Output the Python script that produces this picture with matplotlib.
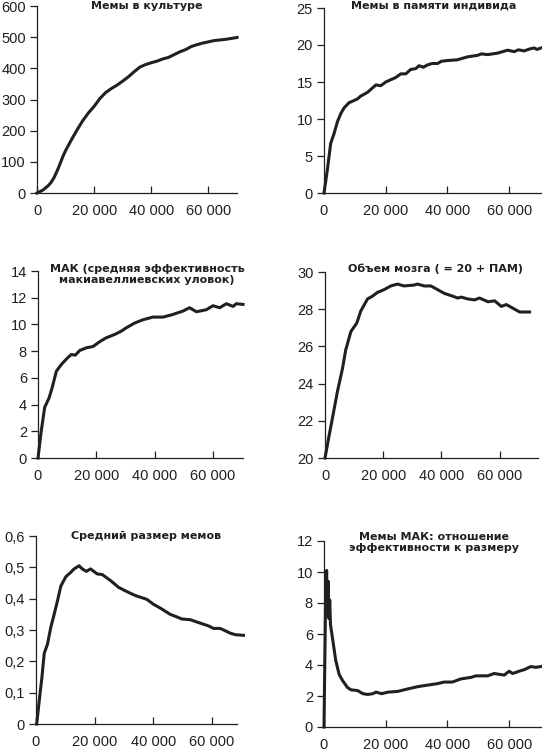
import numpy as np
import matplotlib.pyplot as plt
from matplotlib.ticker import FuncFormatter

plt.rcParams['font.family'] = ['Liberation Sans', 'DejaVu Sans']

# --- data (x = time steps) ---
x_culture = [0, 2000, 4000, 5000, 6000, 7000, 8000, 9000, 10000, 12000, 14000, 16000,
             18000, 20000, 22000, 24000, 26000, 28000, 30000, 32000, 34000, 36000,
             38000, 40000, 42000, 44000, 46000, 48000, 50000, 52000, 54000, 56000,
             58000, 60000, 62000, 64000, 66000, 68000, 70000]
y_culture = [0, 9, 24, 35, 50, 70, 92, 116, 136, 170, 202, 232,
             257, 278, 303, 322, 335, 346, 359, 373, 389, 404,
             412, 418, 423, 430, 435, 444, 453, 460, 470, 476,
             481, 485, 489, 491, 493, 496, 499]

x_memory = [0, 1080, 2160, 3240, 4320, 5400, 6500, 8100, 9200, 10800, 11900, 14100,
            15700, 16800, 18400, 20000, 21600, 23200, 24900, 26500, 28100, 29700,
            30800, 32200, 33500, 35000, 36800, 38000, 40000, 43200, 46500, 49700,
            51000, 53000, 56200, 59500, 61600, 63000, 64900, 66500, 68100, 69000, 70300]
y_memory = [0, 3.1, 6.7, 8.0, 9.6, 10.7, 11.5, 12.2, 12.4, 12.7, 13.1, 13.6,
            14.2, 14.6, 14.5, 15.0, 15.3, 15.6, 16.1, 16.1, 16.7, 16.8,
            17.2, 17.0, 17.3, 17.5, 17.5, 17.8, 17.9, 18.0, 18.4, 18.6,
            18.8, 18.7, 18.9, 19.3, 19.1, 19.35, 19.2, 19.45, 19.6, 19.4, 19.6]

x_mac = [0, 1100, 2300, 3800, 4900, 6300, 8000, 9700, 11400, 12800, 14300, 16600,
         18900, 21100, 23400, 26300, 28600, 30300, 33100, 36000, 39400, 42900,
         46300, 49700, 52000, 54300, 57700, 60000, 62300, 64600, 66900, 68000, 70300]
y_mac = [0, 2.0, 3.8, 4.5, 5.3, 6.5, 7.0, 7.4, 7.75, 7.7, 8.05, 8.25,
         8.35, 8.7, 9.0, 9.25, 9.5, 9.75, 10.1, 10.35, 10.55, 10.55,
         10.75, 11.0, 11.25, 10.95, 11.1, 11.4, 11.25, 11.55, 11.35, 11.55, 11.5]

x_brain = [0, 1400, 2500, 4300, 6000, 7100, 8900, 10900, 12300, 14600, 16300, 18000,
           20300, 22600, 24900, 27200, 30700, 31800, 34100, 36400, 38700, 41000,
           43900, 45600, 46800, 49100, 51400, 53100, 56000, 58300, 60600, 62300,
           64600, 66900, 70300]
y_brain = [20, 21.2, 22.1, 23.6, 24.8, 25.8, 26.8, 27.25, 27.9, 28.55, 28.7, 28.9,
           29.05, 29.25, 29.35, 29.25, 29.3, 29.35, 29.25, 29.25, 29.05, 28.85,
           28.7, 28.6, 28.65, 28.55, 28.5, 28.6, 28.4, 28.45, 28.15, 28.25,
           28.05, 27.85, 27.85]

x_size = [230, 1130, 2030, 2800, 3950, 5080, 6200, 7350, 8470, 10170, 11860, 13000,
          14700, 15800, 17200, 18600, 20900, 22600, 25400, 28200, 30500, 31600,
          33900, 35500, 37800, 40100, 42400, 45800, 48000, 49800, 52600, 56000,
          58900, 60600, 62900, 66300, 68000, 70800]
y_size = [0, 0.076, 0.15, 0.225, 0.256, 0.31, 0.35, 0.394, 0.44, 0.47, 0.484, 0.495,
          0.505, 0.495, 0.487, 0.495, 0.479, 0.477, 0.458, 0.436, 0.425, 0.42,
          0.41, 0.405, 0.398, 0.382, 0.37, 0.35, 0.342, 0.335, 0.333, 0.322,
          0.313, 0.305, 0.305, 0.29, 0.285, 0.283]

x_ratio = [0, 500, 850, 1100, 1350, 1600, 1850, 2100, 2700, 3800, 4900, 6000, 7600,
           8700, 10900, 12600, 14200, 15800, 16900, 18600, 20800, 24000, 27000,
           30300, 33500, 36800, 38900, 41600, 44300, 47600, 49200, 53000, 55100,
           58400, 60000, 61100, 63200, 64900, 67000, 68600, 70300]
y_ratio = [0, 8.0, 10.1, 7.2, 9.4, 7.0, 8.2, 6.6, 5.8, 4.3, 3.4, 3.0, 2.55,
           2.4, 2.35, 2.15, 2.1, 2.15, 2.25, 2.15, 2.25, 2.3, 2.45,
           2.6, 2.7, 2.8, 2.9, 2.9, 3.1, 3.2, 3.3, 3.3, 3.45,
           3.35, 3.6, 3.45, 3.6, 3.7, 3.9, 3.85, 3.9]

W, H = 542, 750
ink = '#231f20'


def make_ax(left, right, top, bottom):
    return fig.add_axes([left / W, 1 - bottom / H, (right - left) / W, (bottom - top) / H])


def style(ax, xmax, ylo, yhi, ystep, yfmt=None):
    ax.set_xlim(0, xmax)
    ax.set_ylim(ylo, yhi)
    ax.set_xticks([0, 20000, 40000, 60000])
    ax.set_yticks(np.arange(ylo, yhi + ystep / 2, ystep))
    ax.xaxis.set_major_formatter(FuncFormatter(lambda v, p: '{:,.0f}'.format(v).replace(',', ' ')))
    if yfmt:
        ax.yaxis.set_major_formatter(FuncFormatter(yfmt))
    else:
        ax.yaxis.set_major_formatter(FuncFormatter(lambda v, p: '{:g}'.format(v)))
    for s in ['top', 'right']:
        ax.spines[s].set_visible(False)
    for s in ['left', 'bottom']:
        ax.spines[s].set_linewidth(0.9)
        ax.spines[s].set_color(ink)
    ax.tick_params(axis='y', direction='out', length=5, width=0.9, pad=3, labelsize=10.5, colors=ink)
    ax.tick_params(axis='x', direction='in', length=5, width=0.9, pad=8, labelsize=10.5, colors=ink)
    ax.set_facecolor('none')


fig = plt.figure(figsize=(W / 100, H / 100), dpi=100)

title_kw = dict(ha='center', va='top', fontsize=8, fontweight='bold', color=ink,
                family=['DejaVu Sans'])

ax1 = make_ax(37, 237, 6, 193)
ax1.plot(x_culture, y_culture, color=ink, lw=2.2, clip_on=False)
style(ax1, 70000, 0, 600, 100)
fig.text(147 / W, 1 - 1 / H, 'Мемы в культуре', **title_kw)

ax2 = make_ax(324, 541, 8, 193)
ax2.plot(x_memory, y_memory, color=ink, lw=2.2, clip_on=False)
style(ax2, 70300, 0, 25, 5)
fig.text(434 / W, 1 - 1 / H, 'Мемы в памяти индивида', **title_kw)

ax3 = make_ax(38, 243, 271, 458)
ax3.plot(x_mac, y_mac, color=ink, lw=2.2, clip_on=False)
style(ax3, 70300, 0, 14, 2)
fig.text(147 / W, 1 - 264 / H, 'МАК (средняя эффективность\nмакиавеллиевских уловок)',
         linespacing=1.1, **title_kw)

ax4 = make_ax(325, 538, 272, 458)
ax4.plot(x_brain, y_brain, color=ink, lw=2.2, clip_on=False)
style(ax4, 73200, 20, 30, 2)
fig.text(435 / W, 1 - 264 / H, 'Объем мозга ( = 20 + ПАМ)', **title_kw)

ax5 = make_ax(36, 237, 536, 724)
ax5.plot(x_size, y_size, color=ink, lw=2.2, clip_on=False)
style(ax5, 68600, 0, 0.6, 0.1,
      yfmt=lambda v, p: '0' if abs(v) < 1e-9 else '{:.1f}'.format(v).replace('.', ','))
fig.text(146 / W, 1 - 531 / H, 'Средний размер мемов', **title_kw)

ax6 = make_ax(324, 541, 541, 727)
ax6.plot(x_ratio, y_ratio, color=ink, lw=2.2, clip_on=False)
style(ax6, 70300, 0, 12, 2)
fig.text(434 / W, 1 - 532 / H, 'Мемы МАК: отношение\nэффективности к размеру',
         linespacing=1.1, **title_kw)

fig.savefig('out.png', dpi=100)
